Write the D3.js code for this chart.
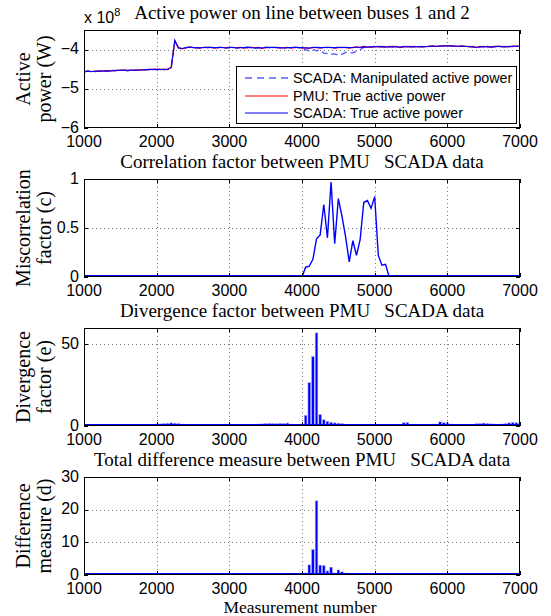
<!DOCTYPE html>
<html>
<head>
<meta charset="utf-8">
<script src="https://cdn.jsdelivr.net/npm/d3@7"></script>
<style>
body{margin:0;background:#fff;}
svg{display:block;}
.tick-lbl{font-family:"Liberation Sans",Arial,sans-serif;font-size:16px;fill:#000;}
.ttl{font-family:"Liberation Serif","Times New Roman",serif;font-size:19px;fill:#000;white-space:pre;}
.ylab{font-family:"Liberation Serif","Times New Roman",serif;font-size:20px;fill:#000;}
.leg{font-family:"Liberation Sans",Arial,sans-serif;font-size:14.3px;fill:#000;}
</style>
</head>
<body>
<div id="chart"></div>
<script>
// measurement numbers (one sample every 50)
var measNo = d3.range(1000, 7001, 50);

// active power, x 1e8 W
var pmuTrue = [
 -4.56,-4.55,-4.56,-4.55,-4.55,-4.54,-4.55,-4.54,-4.53,-4.54,
 -4.52,-4.53,-4.53,-4.52,-4.52,-4.53,-4.51,-4.52,-4.50,-4.51,
 -4.50,-4.51,-4.50,-4.51,-4.45,-3.78,-3.95,-3.98,-3.96,-3.93,
 -3.94,-3.96,-3.95,-3.95,-3.94,-3.95,-3.96,-3.94,-3.95,-3.95,
 -3.94,-3.95,-3.95,-3.94,-3.96,-3.95,-3.94,-3.95,-3.94,-3.97,
 -3.95,-3.94,-3.95,-3.94,-3.96,-3.95,-3.94,-3.96,-3.95,-3.94,
 -3.96,-3.95,-3.97,-3.94,-3.95,-3.96,-3.94,-3.95,-3.94,-3.96,
 -3.95,-3.94,-3.95,-3.96,-3.94,-3.93,-3.95,-3.92,-3.93,-3.94,
 -3.93,-3.92,-3.93,-3.94,-3.92,-3.93,-3.92,-3.95,-3.93,-3.92,
 -3.93,-3.92,-3.93,-3.92,-3.93,-3.91,-3.92,-3.91,-3.92,-3.90,
 -3.91,-3.90,-3.92,-3.91,-3.92,-3.91,-3.93,-3.92,-3.95,-3.92,
 -3.93,-3.92,-3.94,-3.92,-3.91,-3.93,-3.92,-3.93,-3.91,-3.92,
 -3.92];
var scadaTrue = [
 -4.57,-4.55,-4.56,-4.56,-4.55,-4.55,-4.54,-4.55,-4.54,-4.53,
 -4.53,-4.52,-4.54,-4.52,-4.53,-4.52,-4.52,-4.51,-4.51,-4.50,
 -4.51,-4.50,-4.51,-4.50,-4.46,-3.77,-3.96,-3.97,-3.95,-3.94,
 -3.95,-3.95,-3.96,-3.94,-3.95,-3.94,-3.95,-3.95,-3.94,-3.96,
 -3.95,-3.94,-3.96,-3.95,-3.95,-3.94,-3.95,-3.96,-3.95,-3.96,
 -3.94,-3.95,-3.94,-3.95,-3.95,-3.96,-3.95,-3.95,-3.94,-3.95,
 -3.95,-3.96,-3.96,-3.95,-3.94,-3.95,-3.95,-3.94,-3.95,-3.95,
 -3.94,-3.95,-3.94,-3.95,-3.95,-3.94,-3.94,-3.93,-3.94,-3.93,
 -3.92,-3.93,-3.92,-3.93,-3.93,-3.92,-3.93,-3.94,-3.92,-3.93,
 -3.92,-3.93,-3.92,-3.93,-3.92,-3.92,-3.91,-3.92,-3.91,-3.91,
 -3.90,-3.91,-3.91,-3.92,-3.91,-3.92,-3.92,-3.93,-3.94,-3.93,
 -3.92,-3.93,-3.93,-3.93,-3.92,-3.92,-3.93,-3.92,-3.92,-3.91,
 -3.92];
var scadaManip = [
 -4.57,-4.55,-4.56,-4.56,-4.55,-4.55,-4.54,-4.55,-4.54,-4.53,
 -4.53,-4.52,-4.54,-4.52,-4.53,-4.52,-4.52,-4.51,-4.51,-4.50,
 -4.51,-4.50,-4.51,-4.50,-4.46,-3.77,-3.96,-3.97,-3.95,-3.94,
 -3.95,-3.95,-3.96,-3.94,-3.95,-3.94,-3.95,-3.95,-3.94,-3.96,
 -3.95,-3.94,-3.96,-3.95,-3.95,-3.94,-3.95,-3.96,-3.95,-3.96,
 -3.94,-3.95,-3.94,-3.95,-3.95,-3.96,-3.95,-3.95,-3.94,-3.95,
 -3.97,-4.00,-4.03,-3.99,-4.03,-4.01,-4.09,-4.10,-4.12,-4.11,
 -4.14,-4.12,-4.07,-4.09,-4.08,-4.04,-4.01,-3.94,-3.94,-3.93,
 -3.92,-3.93,-3.92,-3.93,-3.93,-3.92,-3.93,-3.94,-3.92,-3.93,
 -3.92,-3.93,-3.92,-3.93,-3.92,-3.92,-3.91,-3.92,-3.91,-3.91,
 -3.90,-3.91,-3.91,-3.92,-3.91,-3.92,-3.92,-3.93,-3.94,-3.93,
 -3.92,-3.93,-3.93,-3.93,-3.92,-3.92,-3.93,-3.92,-3.92,-3.91,
 -3.92];

// miscorrelation factor c
var miscorr = [
 0,0,0,0,0,0,0,0.01,0,0,
 0,0,0,0,0,0,0,0,0,0,
 0,0,0,0,0,0,0,0,0,0,
 0,0,0,0,0,0,0,0,0,0,
 0,0,0,0,0,0,0,0,0,0,
 0,0,0,0,0,0,0,0,0,0,
 0,0.10,0.11,0.18,0.39,0.43,0.74,0.40,0.97,0.34,
 0.80,0.62,0.41,0.155,0.37,0.22,0.38,0.76,0.78,0.70,
 0.82,0.22,0.12,0.13,0,0,0,0,0,0,
 0,0,0,0.01,0,0,0,0,0,0,
 0,0,0,0,0,0,0,0,0,0,
 0,0,0,0,0,0,0,0,0,0,
 0];

// divergence factor e
var diverg = [
 0.8,1.0,0.9,1.0,0.8,0.9,1.0,0.8,0.9,1.0,
 0.9,1.0,0.9,1.1,1.0,0.9,1.0,1.1,0.9,1.0,
 1.2,1.3,1.5,1.6,1.9,1.7,1.5,1.2,1.0,0.9,
 0.8,0.7,0.8,1.0,0.9,1.1,1.0,0.9,1.0,1.2,
 1.1,1.0,0.9,0.8,1.0,1.1,0.9,1.0,1.2,1.3,
 1.5,1.6,1.5,1.4,1.6,1.5,1.8,1.2,1.0,1.1,
 0.6,6.5,26.5,42.5,57,7,3.8,2.9,2.3,1.9,
 1.7,1.5,1.0,1.0,0.7,0.6,0.5,0.5,0.4,0.4,
 0.3,0.3,0.3,0.3,0.3,0.3,0.3,0.3,2.0,2.1,
 1.0,0.6,0.5,0.6,0.9,1.0,1.2,1.1,2.5,2.0,
 1.8,1.2,1.0,0.8,0.7,0.9,0.8,0.9,1.4,1.5,
 1.8,1.5,1.3,1.2,1.0,1.2,1.4,1.9,2.2,2.0,
 1.8];

// difference measure d
var diffMeas = [
 0,0,0,0,0,0,0,0,0,0,
 0,0,0,0,0,0,0,0,0,0,
 0,0,0,0,0,0,0,0,0,0,
 0,0,0,0,0,0,0,0,0,0,
 0,0,0,0,0,0,0,0,0,0,
 0,0,0,0,0,0,0,0,0,0,
 0,0.6,3.1,7.8,22.7,3.0,2.9,1.25,2.4,0.6,
 1.55,0.95,0.6,0.2,0.3,0.2,0.3,0.4,0.3,0.3,
 0.4,0,0,0,0,0,0,0,0,0,
 0,0,0,0,0,0,0,0,0,0,
 0,0,0,0,0,0,0,0,0,0,
 0,0,0,0,0,0,0,0,0,0,
 0];

var xTicks = [1000,2000,3000,4000,5000,6000,7000];
var titles = ["Active power on line between buses 1 and 2",
  "Correlation factor between PMU   SCADA data",
  "Divergence factor between PMU   SCADA data",
  "Total difference measure between PMU   SCADA data"];
var yLabels = [["Active","power (W)"],["Miscorrelation","factor (c)"],["Divergence","factor (e)"],["Difference","measure (d)"]];
var yDomains = [[-6,-3.5],[0,1],[0,60],[0,30]];
var yTicks = [[-6,-5,-4],[0,0.5,1],[0,50],[0,10,20,30]];
var legendNames = ["SCADA: Manipulated active power","PMU: True active power","SCADA: True active power"];

var width = 551, height = 616;
var left = 84, right = 520;
var tops = [30, 179, 328, 477];
var ph = 98;
var tickLen = 4;

var svg = d3.select("#chart").append("svg").attr("width", width).attr("height", height);
var x = d3.scaleLinear().domain([1000,7000]).range([left,right]);

function fmt(v){
	var s = String(v);
	return s.replace("-", "\u2212");
}

function makePanel(k){
	var top = tops[k], bot = top + ph;
	var y = d3.scaleLinear().domain(yDomains[k]).range([bot, top]);
	var g = svg.append("g");

	// grid
	var grid = g.append("g").attr("stroke","#777").attr("stroke-width",1).attr("stroke-dasharray","1,3");
	grid.selectAll(".gx").data(xTicks.slice(1,-1)).enter().append("line")
		.attr("x1",function(d){return Math.round(x(d))+0.5;}).attr("x2",function(d){return Math.round(x(d))+0.5;})
		.attr("y1",top).attr("y2",bot);
	grid.selectAll(".gy").data(yTicks[k].filter(function(d){return y(d)>top+1 && y(d)<bot-1;})).enter().append("line")
		.attr("y1",function(d){return Math.round(y(d))+0.5;}).attr("y2",function(d){return Math.round(y(d))+0.5;})
		.attr("x1",left).attr("x2",right);

	// data
	var clip = "clip"+k;
	svg.append("clipPath").attr("id",clip).append("rect").attr("x",left).attr("y",top).attr("width",right-left).attr("height",ph);
	var dg = g.append("g").attr("clip-path","url(#"+clip+")");
	var line = d3.line().x(function(d){return x(d[0]);}).y(function(d){return y(d[1]);});
	if(k==0){
		dg.append("path").datum(d3.zip(measNo, scadaManip)).attr("d",line)
			.attr("fill","none").attr("stroke","#5c5cff").attr("stroke-width",1.4).attr("stroke-dasharray","6,4");
		dg.append("path").datum(d3.zip(measNo, pmuTrue)).attr("d",line)
			.attr("fill","none").attr("stroke","#ff0000").attr("stroke-width",1.2);
		dg.append("path").datum(d3.zip(measNo, scadaTrue)).attr("d",line)
			.attr("fill","none").attr("stroke","#0000ff").attr("stroke-width",1.1);
	} else if(k==1){
		dg.append("path").datum(d3.zip(measNo, miscorr)).attr("d",line)
			.attr("fill","none").attr("stroke","#0000ff").attr("stroke-width",1.4);
		dg.append("line").attr("x1",left).attr("x2",right).attr("y1",y(0)-1).attr("y2",y(0)-1)
			.attr("stroke","#0000ff").attr("stroke-width",2);
	} else {
		var vals = k==2 ? diverg : diffMeas;
		dg.selectAll("rect.bar").data(d3.zip(measNo, vals)).enter().append("rect")
			.attr("class","bar")
			.attr("x",function(d){return x(d[0])-1.3;})
			.attr("width",2.6)
			.attr("y",function(d){return y(d[1]);})
			.attr("height",function(d){return Math.max(0, y(0)-y(d[1]));})
			.attr("fill","#0000ff").attr("stroke","#a8a8ff").attr("stroke-width",0.5);
		dg.append("line").attr("x1",left).attr("x2",right).attr("y1",y(0)-1).attr("y2",y(0)-1)
			.attr("stroke","#0000ff").attr("stroke-width",2);
	}

	// box + inner ticks
	g.append("rect").attr("x",left+0.5).attr("y",top+0.5).attr("width",right-left-1).attr("height",ph-1)
		.attr("fill","none").attr("stroke","#000").attr("stroke-width",1);
	var tg = g.append("g").attr("stroke","#000").attr("stroke-width",1);
	xTicks.forEach(function(t){
		var px = Math.round(x(t))+0.5;
		tg.append("line").attr("x1",px).attr("x2",px).attr("y1",bot).attr("y2",bot-tickLen);
		tg.append("line").attr("x1",px).attr("x2",px).attr("y1",top).attr("y2",top+tickLen);
	});
	yTicks[k].forEach(function(t){
		var py = Math.round(y(t))+0.5;
		tg.append("line").attr("x1",left).attr("x2",left+tickLen).attr("y1",py).attr("y2",py);
		tg.append("line").attr("x1",right).attr("x2",right-tickLen).attr("y1",py).attr("y2",py);
	});

	// tick labels
	g.selectAll(".xl").data(xTicks).enter().append("text").attr("class","tick-lbl")
		.attr("x",function(d){return x(d);}).attr("y",bot+18.5).attr("text-anchor","middle")
		.text(function(d){return d;});
	g.selectAll(".yl").data(yTicks[k]).enter().append("text").attr("class","tick-lbl")
		.attr("x",left-5).attr("y",function(d){return y(d)+4.5;}).attr("text-anchor","end")
		.text(function(d){return fmt(d);});

	// title
	g.append("text").attr("class","ttl").attr("x",(left+right)/2).attr("y",top-11)
		.attr("text-anchor","middle").text(titles[k]);

	// y label (two lines)
	var cy = (top+bot)/2;
	var yl = g.append("text").attr("class","ylab").attr("text-anchor","middle")
		.attr("transform","translate(34,"+cy+") rotate(-90)");
	yl.append("tspan").attr("x",0).attr("dy",-4).text(yLabels[k][0]);
	yl.append("tspan").attr("x",0).attr("dy",21).text(yLabels[k][1]);
}

for(var k=0;k<4;k++){ makePanel(k); }

// exponent label
var ex = svg.append("text").attr("class","tick-lbl").attr("x",left).attr("y",23);
ex.append("tspan").text("x 10");
ex.append("tspan").attr("dy",-7).style("font-size","11px").text("8");

// legend
var lg = svg.append("g");
lg.append("rect").attr("x",236.5).attr("y",66.5).attr("width",280).attr("height",57)
	.attr("fill","#fff").attr("stroke","#000").attr("stroke-width",1);
var legStyles = [
	{c:"#5c5cff",w:1.6,da:"7,5"},
	{c:"#ff0000",w:1.2,da:null},
	{c:"#0000ff",w:1.2,da:null}];
var legY = [78,96,113];
legendNames.forEach(function(n,i){
	var l = lg.append("line").attr("x1",245).attr("x2",288).attr("y1",legY[i]).attr("y2",legY[i])
		.attr("stroke",legStyles[i].c).attr("stroke-width",legStyles[i].w);
	if(legStyles[i].da) l.attr("stroke-dasharray",legStyles[i].da);
	lg.append("text").attr("class","leg").attr("x",293).attr("y",legY[i]+5).text(n);
});

// x axis label
svg.append("text").attr("class","ylab").attr("x",(left+right)/2 - 2).attr("y",613)
	.attr("text-anchor","middle").style("font-size","17.5px").text("Measurement number");
</script>
</body>
</html>
